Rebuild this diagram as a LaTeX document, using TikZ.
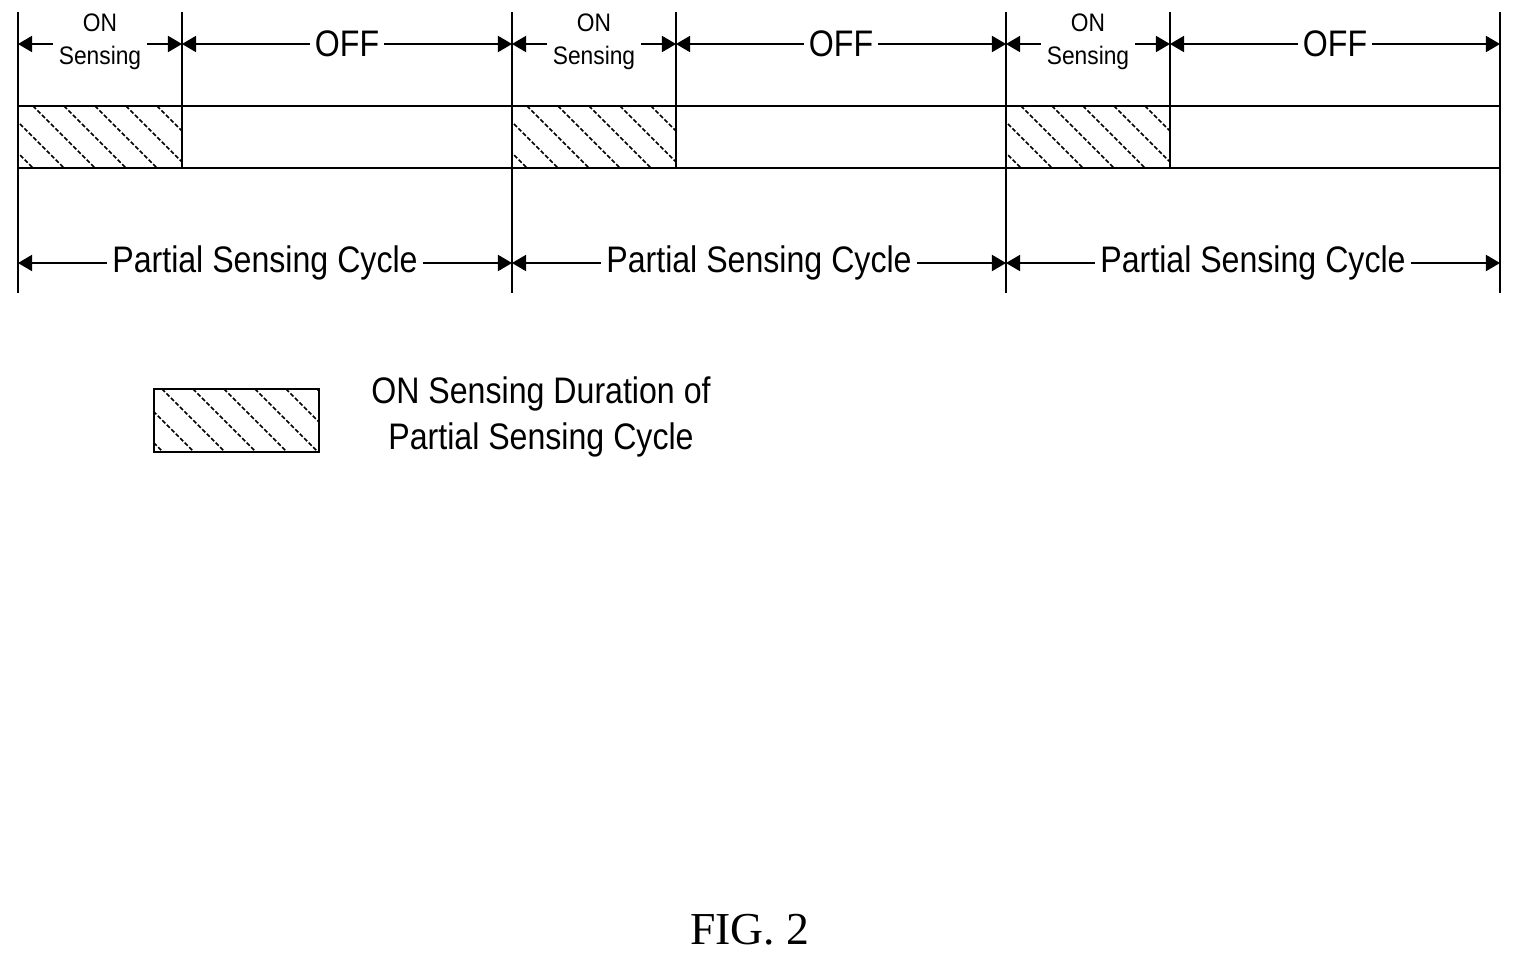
\documentclass[tikz,border=0pt]{standalone}
\usepackage{fontspec}
\setmainfont{Liberation Sans}
\newfontfamily\figfont{Liberation Serif}
\usetikzlibrary{arrows.meta,patterns}
\tikzset{
  dim/.style={{Triangle[length=4pt,width=4.6pt]}-{Triangle[length=4pt,width=4.6pt]}},
  half/.style={-{Triangle[length=4pt,width=4.6pt]}},
  small/.style={font=\fontsize{7.2}{9.5}\selectfont, xscale=0.9, align=center, inner sep=1pt},
  big/.style={font=\fontsize{10.5}{13}\selectfont, xscale=0.87, inner sep=1.5pt},
}
\begin{document}
\begin{tikzpicture}[x=0.01cm,y=-0.01cm]
  \useasboundingbox (0,0) rectangle (1514,954);
  % strip
  \draw (18,106) -- (1500,106);
  \draw[line width=0.7pt] (18,168) -- (1500,168);
  \foreach \i/\o in {1/0,2/494,3/988} {
    \begin{scope}[xshift=\o*0.01cm]
      % hatched on-duration
      \begin{scope}
        \clip (18,106) rectangle (182,168);
        \foreach \h in {-60,-29,...,190}
          \draw[line width=0.5pt, dash pattern=on 1.2pt off 0.6pt] (\h,106) -- (\h+62,168);
      \end{scope}
      \draw (18,12) -- (18,293);
      \draw (182,12) -- (182,168);
      \coordinate (a\i) at (18,44);
      \coordinate (b\i) at (182,44);
      \coordinate (c\i) at (512,44);
      \coordinate (p\i) at (18,263);
      \coordinate (q\i) at (512,263);
      \node[small] (on\i) at (100,42) {ON\\Sensing};
      \node[big] (off\i) at (347,44) {OFF};
      \node[big] (cyc\i) at (265,263) {Partial Sensing Cycle};
      \draw[half] (on\i.west |- a\i) ++(-2,0) -- (a\i);
      \draw[half] (on\i.east |- b\i) ++(2,0) -- (b\i);
      \draw[half] (off\i) -- (b\i);
      \draw[half] (off\i) -- (c\i);
      \draw[half] (cyc\i) -- (p\i);
      \draw[half] (cyc\i) -- (q\i);
    \end{scope}
  }
  \draw (1500,12) -- (1500,293);
  % legend
  \begin{scope}
    \clip (154,389) rectangle (319,452);
    \foreach \h in {100,131,...,330}
      \draw[line width=0.5pt, dash pattern=on 1.2pt off 0.6pt] (\h,389) -- (\h+63,452);
  \end{scope}
  \node[draw, minimum width=1.65cm, minimum height=0.63cm] (key) at (236.5,420.5) {};
  \node[big, align=center, font=\fontsize{10.5}{13.2}\selectfont] (keytext) at (541,417) {ON Sensing Duration of\\Partial Sensing Cycle};
  \node[font=\figfont\fontsize{13}{15}\selectfont] (fig) at (750,930) {FIG. 2};
\end{tikzpicture}
\end{document}
